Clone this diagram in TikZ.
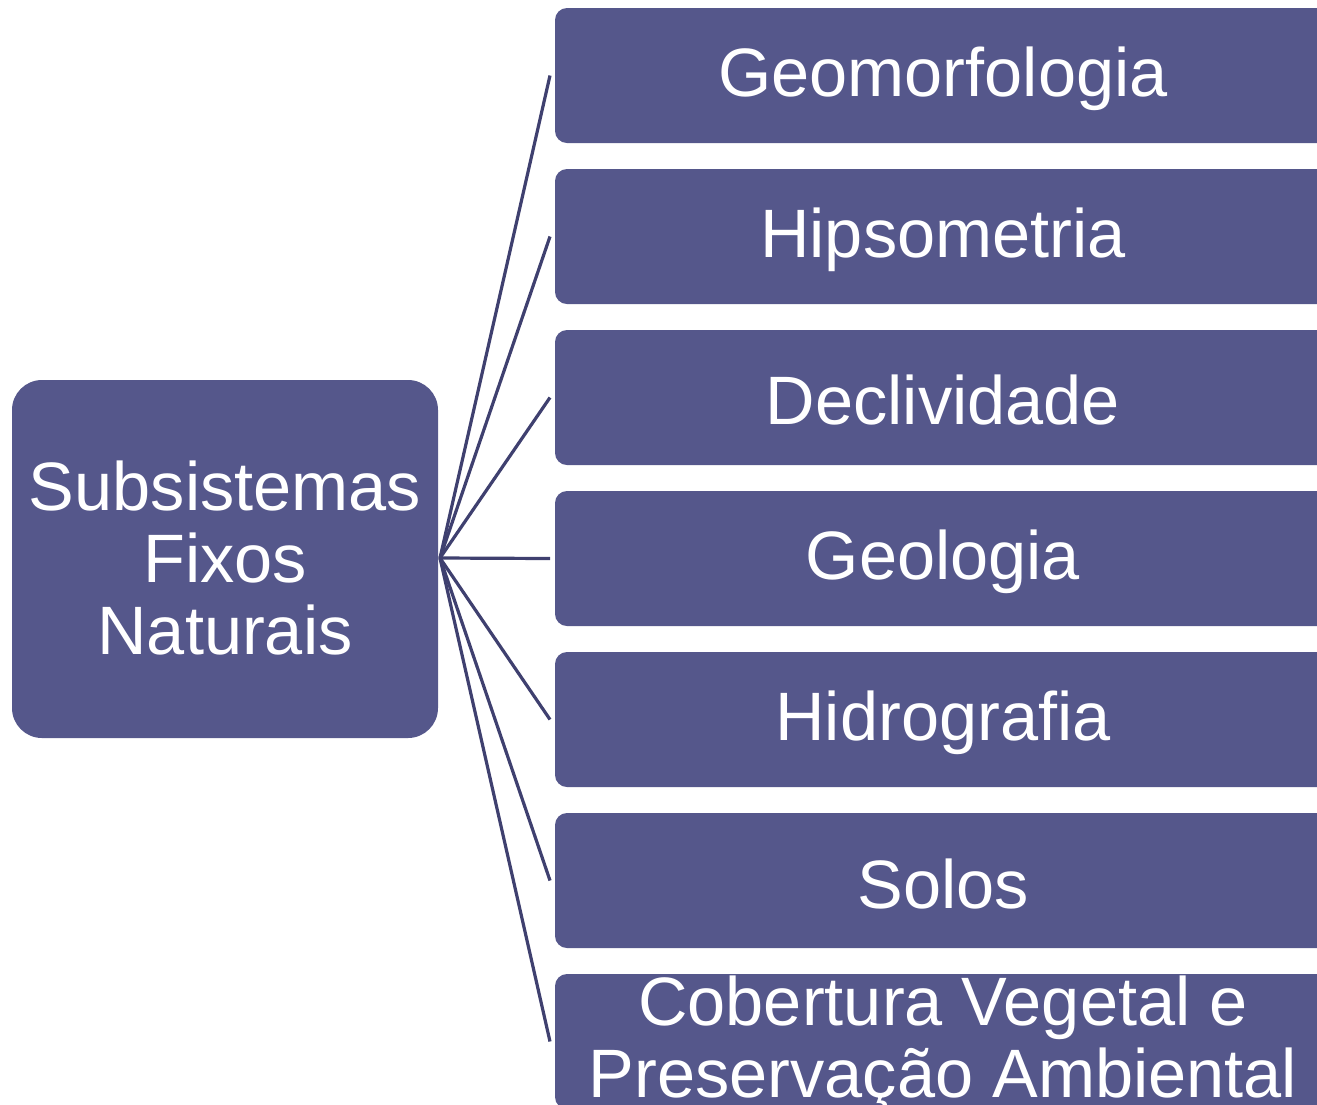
\documentclass[tikz,border=0pt]{standalone}
\usepackage{fontspec}
\setmainfont{Liberation Sans}
\definecolor{boxfill}{HTML}{55578B}
\definecolor{linkcol}{HTML}{3F406F}
\begin{document}
\begin{tikzpicture}[x=1pt,y=-1pt,
  leafbox/.style={fill=boxfill,draw=none,rounded corners=12pt},
  link/.style={draw=linkcol,line width=3.2pt},
  lbl/.style={text=white,font=\fontsize{68.5}{72}\selectfont,align=center,inner sep=0pt}]
\useasboundingbox (0,0) rectangle (1317,1104);
\begin{scope}
\clip (0,0) rectangle (1317,1104);
% left box
\fill[boxfill,rounded corners=30pt] (12,380) rectangle (438,738);
\node[lbl] (root) at (225,558) {Subsistemas\\Fixos\\Naturais};
\coordinate (hub) at (440,558);
\foreach \i/\t in {0/Geomorfologia,1/Hipsometria,2/Declividade,3/Geologia,4/Hidrografia,5/Solos} {
  \pgfmathsetmacro{\top}{8+161*\i}
  \fill[leafbox] (555,\top) rectangle (1331,\top+135);
  \node[lbl] (n\i) at (943,\top+70.5) {\t};
  \coordinate (e\i) at (550,\top+67.5);
  \draw[link] (hub) -- (e\i);
}
\fill[leafbox] (555,974) rectangle (1331,1109);
\node[lbl] (n6) at (943,1044) {Cobertura Vegetal e\\Preservação Ambiental};
\coordinate (e6) at (550,1041.5);
\draw[link] (hub) -- (e6);
\end{scope}
\end{tikzpicture}
\end{document}
